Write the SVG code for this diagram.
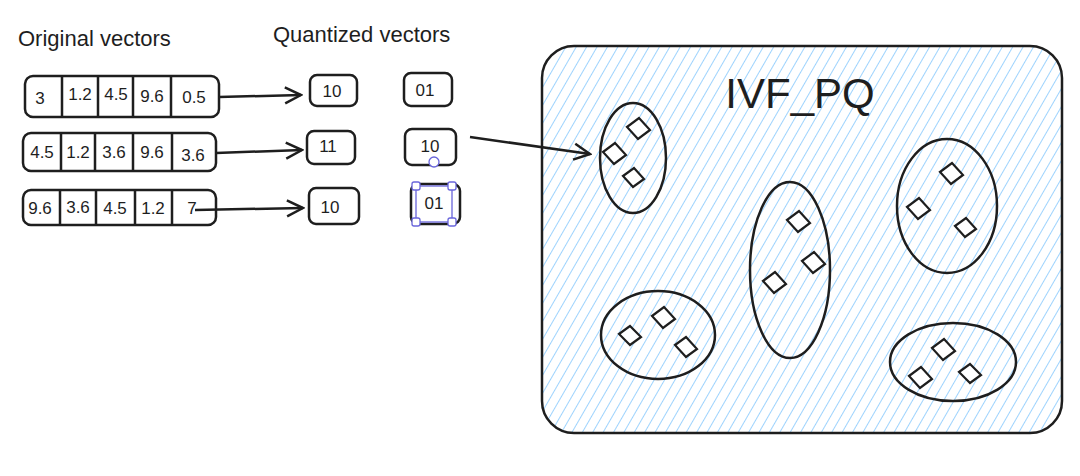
<svg xmlns="http://www.w3.org/2000/svg" width="1080" height="476" viewBox="0 0 1080 476">
<defs>
<pattern id="h" width="9" height="9" patternUnits="userSpaceOnUse" patternTransform="rotate(30)"><line x1="0" y1="0" x2="0" y2="9" stroke="#74c0fc" stroke-width="1.4"/></pattern>
<marker id="a" viewBox="0 0 20 20" refX="18" refY="10" markerWidth="20" markerHeight="20" markerUnits="userSpaceOnUse" orient="auto"><path d="M2,2 L18,10 L2,18" fill="none" stroke="#1e1e1e" stroke-width="2.5"/></marker>
</defs>
<style>
.b{fill:none;stroke:#1e1e1e;stroke-width:2.5}
.t{font-family:"Liberation Sans",sans-serif;font-size:17px;fill:#1e1e1e;text-anchor:middle}
.h{font-family:"Liberation Sans",sans-serif;font-size:22px;fill:#1e1e1e}
.d{fill:#fff;stroke:#1e1e1e;stroke-width:2.2}
.s{fill:#fff;stroke:#6965db;stroke-width:1.3}
</style>
<rect width="1080" height="476" fill="#fff"/>
<text class="h" x="18" y="46">Original vectors</text>
<text class="h" x="273" y="42">Quantized vectors</text>
<g id="v1"><rect class="b" x="25" y="76" width="194" height="41" rx="8"/><path class="b" d="M62 76V117M98 76V117M133 76V117M171 76V117"/>
<text class="t" x="40" y="104">3</text><text class="t" x="80" y="100">1.2</text><text class="t" x="116" y="100">4.5</text><text class="t" x="152" y="102">9.6</text><text class="t" x="194" y="103">0.5</text></g>
<g id="v2"><rect class="b" x="23" y="133" width="193" height="38" rx="8"/><path class="b" d="M61 133V171M95 133V171M133 133V171M172 133V171"/>
<text class="t" x="42" y="158">4.5</text><text class="t" x="78" y="158">1.2</text><text class="t" x="114" y="158">3.6</text><text class="t" x="152" y="158">9.6</text><text class="t" x="193" y="161">3.6</text></g>
<g id="v3"><rect class="b" x="23" y="190" width="193" height="35" rx="8"/><path class="b" d="M60 190V225M96 190V225M135 190V225M172 190V225"/>
<text class="t" x="40" y="214">9.6</text><text class="t" x="78" y="213">3.6</text><text class="t" x="115" y="214">4.5</text><text class="t" x="153" y="214">1.2</text><text class="t" x="192" y="214">7</text></g>
<g id="q"><rect class="b" x="310" y="75" width="47" height="31" rx="7"/><text class="t" x="332" y="97">10</text>
<rect class="b" x="404" y="73" width="48" height="33" rx="7"/><text class="t" x="425" y="96">01</text>
<rect class="b" x="307" y="131" width="48" height="33" rx="7"/><text class="t" x="328" y="152">11</text>
<rect class="b" x="405" y="129" width="51" height="36" rx="7"/><text class="t" x="430" y="152">10</text>
<rect class="b" x="309" y="188" width="50" height="36" rx="7"/><text class="t" x="330" y="213">10</text>
<rect class="b" x="411" y="184" width="49" height="40" rx="7"/><text class="t" x="434" y="209">01</text>
<rect x="416" y="186" width="36" height="36" fill="none" stroke="#6965db" stroke-width="1.3"/>
<rect class="s" x="412" y="182" width="8" height="8" rx="2"/><rect class="s" x="448" y="182" width="8" height="8" rx="2"/><rect class="s" x="412" y="218" width="8" height="8" rx="2"/><rect class="s" x="448" y="218" width="8" height="8" rx="2"/>
<circle class="s" cx="434" cy="162" r="5"/></g>
<g id="ivf"><rect x="542" y="46" width="520" height="387" rx="32" fill="url(#h)" stroke="#1e1e1e" stroke-width="2.5"/>
<text x="800" y="108" font-family="Liberation Sans,sans-serif" font-size="42" fill="#1e1e1e" text-anchor="middle">IVF_PQ</text>
<ellipse class="b" cx="633" cy="158" rx="33" ry="55"/><ellipse class="b" cx="790" cy="270" rx="40" ry="88"/><ellipse class="b" cx="947" cy="206" rx="50" ry="67"/><ellipse class="b" cx="658" cy="335" rx="57" ry="44"/><ellipse class="b" cx="953" cy="362" rx="63" ry="39"/>
<path class="d" d="M627 127l12-9 11 12-12 9z"/><path class="d" d="M603 152l12-9 11 12-12 9z"/><path class="d" d="M623 176l11-8 10 11-11 8z"/>
<path class="d" d="M787 220l12-9 11 12-12 9z"/><path class="d" d="M802 261l12-9 11 12-12 9z"/><path class="d" d="M763 281l12-9 11 12-12 9z"/>
<path class="d" d="M940 172l12-9 11 12-12 9z"/><path class="d" d="M907 207l12-9 11 12-12 9z"/><path class="d" d="M955 226l11-8 10 11-11 8z"/>
<path class="d" d="M619 334l11-8 11 11-11 8z"/><path class="d" d="M652 316l12-9 11 12-12 9z"/><path class="d" d="M675 345l11-8 11 12-11 8z"/>
<path class="d" d="M932 348l12-9 11 12-12 9z"/><path class="d" d="M909 376l12-9 11 12-12 9z"/><path class="d" d="M959 372l11-8 11 11-11 8z"/>
</g>
<g id="connectors">
<path class="b" d="M219 97 L301 95" marker-end="url(#a)"/>
<path class="b" d="M216 153 L302 150" marker-end="url(#a)"/>
<path class="b" d="M195 210 L303 208" marker-end="url(#a)"/>
<path class="b" d="M470 137 L590 154" marker-end="url(#a)"/>
</g>
</svg>
